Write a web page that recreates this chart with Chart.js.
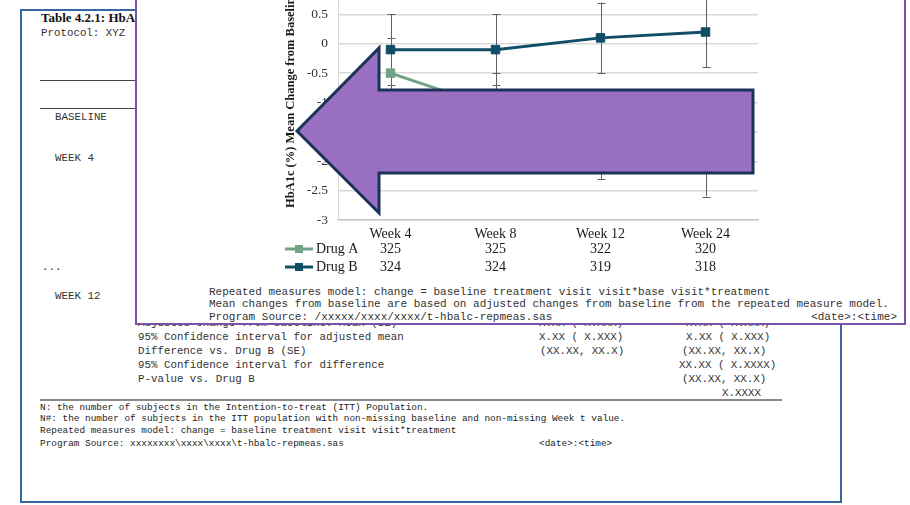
<!DOCTYPE html>
<html>
<head>
<meta charset="utf-8">
<script src="https://cdn.jsdelivr.net/npm/chart.js@4/dist/chart.umd.min.js"></script>
<style>
  html, body { margin:0; padding:0; background:#fff; }
  body { width:910px; height:505px; overflow:hidden; position:relative; }
  .t { position:absolute; white-space:pre; line-height:1; color:#333; font-family:"Liberation Mono","Courier New",monospace; }
  .m11 { font-size:10.8px; }
  .m9 { font-size:9.4px; color:#222; }
  .rule { position:absolute; height:0; }
  #page { position:absolute; left:20px; top:9px; width:822px; height:494px; border:2px solid #3568a3; box-sizing:border-box; }
  #panel { position:absolute; left:135px; top:-60px; width:771px; height:385px; border:2.5px solid #7a50a8; box-sizing:border-box; background:#fff; }
  #chartBox { position:absolute; left:138px; top:-40px; width:766px; height:320px; }
  .note { position:absolute; white-space:pre; line-height:1; font-family:"Liberation Mono","Courier New",monospace; font-size:11px; color:#333; }
  #arrow { position:absolute; left:0; top:0; }
</style>
</head>
<body>

<!-- table page in the background -->
<div id="page"></div>
<div class="t" style="left:41px;top:11px;font-family:'Liberation Serif',serif;font-weight:bold;font-size:13px;color:#111;">Table 4.2.1: HbA1c (%) Change from Baseline</div>
<div class="t m11" style="left:41px;top:28px;">Protocol: XYZ</div>
<div class="rule" style="left:40px;top:80px;width:110px;border-top:1.3px solid #444;"></div>
<div class="rule" style="left:40px;top:108px;width:110px;border-top:1.3px solid #444;"></div>
<div class="t m11" style="left:55px;top:112px;">BASELINE</div>
<div class="t m11" style="left:55px;top:153px;">WEEK 4</div>
<div class="t m11" style="left:42px;top:262px;">...</div>
<div class="t m11" style="left:55px;top:291px;">WEEK 12</div>

<div class="t m11" style="left:138px;top:318px;">Adjusted change from baseline: Mean (SE)</div>
<div class="t m11" style="left:539px;top:318px;">X.XX ( X.XXX)</div>
<div class="t m11" style="left:686px;top:318px;">X.XX ( X.XXX)</div>

<div class="t m11" style="left:138px;top:332px;">95% Confidence interval for adjusted mean</div>
<div class="t m11" style="left:138px;top:346px;">Difference vs. Drug B (SE)</div>
<div class="t m11" style="left:138px;top:360px;">95% Confidence interval for difference</div>
<div class="t m11" style="left:138px;top:374px;">P-value vs. Drug B</div>

<div class="t m11" style="left:539px;top:332px;">X.XX ( X.XXX)</div>
<div class="t m11" style="left:540px;top:346px;">(XX.XX, XX.X)</div>
<div class="t m11" style="left:686px;top:332px;">X.XX ( X.XXX)</div>
<div class="t m11" style="left:682px;top:346px;">(XX.XX, XX.X)</div>
<div class="t m11" style="left:679px;top:360px;">XX.XX ( X.XXXX)</div>
<div class="t m11" style="left:682px;top:374px;">(XX.XX, XX.X)</div>
<div class="t m11" style="left:722px;top:388px;">X.XXXX</div>

<div class="rule" style="left:40px;top:399px;width:742px;border-top:2px solid #8a8a8a;"></div>

<div class="t m9" style="left:40px;top:403px;">N: the number of subjects in the Intention-to-treat (ITT) Population.</div>
<div class="t m9" style="left:40px;top:414px;">N#: the number of subjects in the ITT population with non-missing baseline and non-missing Week t value.</div>
<div class="t m9" style="left:40px;top:426px;">Repeated measures model: change = baseline treatment visit visit*treatment</div>
<div class="t m9" style="left:40px;top:439px;">Program Source: xxxxxxxx\xxxx\xxxx\t-hbalc-repmeas.sas</div>
<div class="t m9" style="left:539px;top:439px;">&lt;date&gt;:&lt;time&gt;</div>

<!-- figure panel laid over the table -->
<div id="panel"></div>
<div id="chartBox"><canvas id="c"></canvas></div>
<div class="note" style="left:209px;top:287px;">Repeated measures model: change = baseline treatment visit visit*base visit*treatment</div>
<div class="note" style="left:209px;top:299px;">Mean changes from baseline are based on adjusted changes from baseline from the repeated measure model.</div>
<div class="note" style="left:209px;top:312px;">Program Source: /xxxxx/xxxx/xxxx/t-hbalc-repmeas.sas</div>
<div class="note" style="left:809px;top:312px;width:88px;text-align:right;">&lt;date&gt;:&lt;time&gt;</div>

<!-- call-out arrow -->
<svg id="arrow" width="910" height="505">
  <polygon points="297,131 379,48 379,90 753,90 753,173 379,173 379,213"
           fill="#9a70c2" stroke="#1b3358" stroke-width="3" stroke-linejoin="miter"/>
</svg>

<script>
// Visits on the x axis
const visits = ['Week 4', 'Week 8', 'Week 12', 'Week 24'];

// Adjusted mean change from baseline in HbA1c (%)
const drugA = [-0.5, -1.1, -1.7, -2.0];
const drugB = [-0.1, -0.1, 0.1, 0.2];

// Half-width of the error bars
const errA = [0.6, 0.6, 0.6, 0.6];
const errB = [0.6, 0.6, 0.6, 0.6];

// Number of subjects at each visit
const nA = [325, 325, 322, 320];
const nB = [324, 324, 319, 318];

// Y axis range and tick step
const yMin = -3, yMax = 1, yStep = 0.5;

const colorA = '#72a286';
const colorB = '#0f4e66';
const serif = '"Liberation Serif", "Times New Roman", serif';

const errorBars = {
  id: 'errorBars',
  beforeDatasetsDraw(chart) {
    const { ctx, scales: { x, y } } = chart;
    const errs = [errA, errB];
    ctx.save();
    ctx.strokeStyle = '#606060';
    ctx.lineWidth = 1;
    chart.data.datasets.forEach((ds, di) => {
      ds.data.forEach((v, i) => {
        const px = Math.round(x.getPixelForValue(i)) + 0.5;
        const top = y.getPixelForValue(v + errs[di][i]);
        const bot = y.getPixelForValue(v - errs[di][i]);
        ctx.beginPath();
        ctx.moveTo(px, top); ctx.lineTo(px, bot);
        ctx.moveTo(px - 4, Math.round(top) + 0.5); ctx.lineTo(px + 4, Math.round(top) + 0.5);
        ctx.moveTo(px - 4, Math.round(bot) + 0.5); ctx.lineTo(px + 4, Math.round(bot) + 0.5);
        ctx.stroke();
      });
    });
    ctx.restore();
  }
};

const dataTable = {
  id: 'dataTable',
  afterDraw(chart) {
    const { ctx, chartArea, scales: { x } } = chart;
    const rows = [
      { name: 'Drug A', n: nA, color: colorA, y: chartArea.bottom + 29 },
      { name: 'Drug B', n: nB, color: colorB, y: chartArea.bottom + 47 }
    ];
    ctx.save();
    ctx.font = '14px ' + serif;
    ctx.textBaseline = 'middle';
    rows.forEach(r => {
      // legend key: line with a square marker
      ctx.strokeStyle = r.color;
      ctx.lineWidth = 3;
      ctx.beginPath();
      ctx.moveTo(147, r.y); ctx.lineTo(175, r.y);
      ctx.stroke();
      ctx.fillStyle = r.color;
      ctx.fillRect(157, r.y - 4, 8, 8);
      ctx.fillStyle = '#1a1a1a';
      ctx.textAlign = 'left';
      ctx.fillText(r.name, 178, r.y);
      ctx.textAlign = 'center';
      r.n.forEach((v, i) => ctx.fillText(String(v), x.getPixelForValue(i), r.y));
    });

    // y axis title, read from the bottom up
    ctx.translate(153, 248);
    ctx.rotate(-Math.PI / 2);
    ctx.font = 'bold 12.5px ' + serif;
    ctx.textAlign = 'left';
    ctx.fillStyle = '#1a1a1a';
    ctx.fillText('HbA1c (%) Mean Change from Baseline', 0, 0);
    ctx.restore();
  }
};

new Chart(document.getElementById('c'), {
  type: 'line',
  data: {
    labels: visits,
    datasets: [
      { label: 'Drug A', data: drugA, borderColor: colorA, backgroundColor: colorA,
        borderWidth: 3, pointStyle: 'rect', pointRadius: 6, pointBorderWidth: 1, tension: 0 },
      { label: 'Drug B', data: drugB, borderColor: colorB, backgroundColor: colorB,
        borderWidth: 3, pointStyle: 'rect', pointRadius: 6, pointBorderWidth: 1, tension: 0 }
    ]
  },
  options: {
    responsive: true,
    maintainAspectRatio: false,
    animation: false,
    events: [],
    layout: { padding: { left: 0, right: 146, top: 25, bottom: 0 } },
    plugins: { legend: { display: false }, tooltip: { enabled: false } },
    scales: {
      x: {
        offset: true,
        grid: { display: false, drawTicks: false, offset: true },
        border: { display: true, color: '#c8c8c8', width: 1.5 },
        ticks: { color: '#1a1a1a', font: { family: serif, size: 14 }, padding: 6, maxRotation: 0 },
        afterFit(s) { s.height = 60; }
      },
      y: {
        min: yMin, max: yMax,
        ticks: { stepSize: yStep, color: '#333', font: { family: serif, size: 13.5 }, padding: 10,
                 callback: v => String(v) },
        grid: { color: '#d9d9d9', lineWidth: 1.5, drawTicks: false },
        border: { display: true, color: '#d9d9d9', width: 1 },
        afterFit(s) { s.width = 200; }
      }
    }
  },
  plugins: [errorBars, dataTable]
});
</script>
</body>
</html>
